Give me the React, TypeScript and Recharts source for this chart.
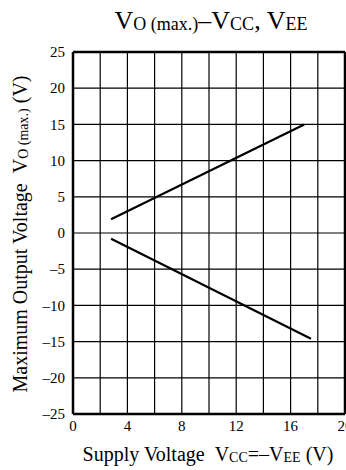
import { LineChart, Line, XAxis, YAxis, CartesianGrid, ReferenceLine } from "recharts";

const xTicks = [0, 2, 4, 6, 8, 10, 12, 14, 16, 18, 20];
const xLabelTicks = [0, 4, 8, 12, 16, 20];
const yTicks = [-25, -20, -15, -10, -5, 0, 5, 10, 15, 20, 25];

// V_O(max) positive side vs supply voltage
const upperX = [2.8, 17];
const upperY = [1.9, 15];
// V_O(max) negative side vs supply voltage
const lowerX = [2.8, 17.5];
const lowerY = [-0.8, -14.6];

const upperData = upperX.map((x, i) => ({ x, y: upperY[i] }));
const lowerData = lowerX.map((x, i) => ({ x, y: lowerY[i] }));

const FONT = "'Liberation Serif', 'Times New Roman', serif";

const XTick = (props: any) => {
  const { x, y, payload } = props;
  if (!xLabelTicks.includes(payload.value)) return null;
  return (
    <text x={x} y={y} dy="0.6em" textAnchor="middle" fontSize={15} fontFamily={FONT} fill="#000">
      {payload.value}
    </text>
  );
};

const YTick = (props: any) => {
  const { x, y, payload } = props;
  return (
    <text x={x} y={y} dy="0.35em" textAnchor="end" fontSize={15} fontFamily={FONT} fill="#000">
      {String(payload.value).replace("-", "\u2013")}
    </text>
  );
};

const App = () => {
  return (
    <div style={{ position: "absolute", left: 0, top: 0, width: 346, height: 470, background: "#fff" }}>
      <LineChart width={346} height={470} margin={{ top: 52, right: 1, bottom: 26, left: 0 }}>
        <CartesianGrid stroke="#000" strokeWidth={1.2} />
        <XAxis
          type="number"
          dataKey="x"
          domain={[0, 20]}
          ticks={xTicks}
          interval={0}
          tickLine={false}
          axisLine={{ stroke: "#000", strokeWidth: 2.5 }}
          height={30}
          tick={<XTick />}
          allowDataOverflow
        />
        <YAxis
          type="number"
          domain={[-25, 25]}
          ticks={yTicks}
          interval={0}
          tickLine={false}
          axisLine={{ stroke: "#000", strokeWidth: 2.5 }}
          width={73}
          tick={<YTick />}
          allowDataOverflow
        />
        <ReferenceLine y={25} stroke="#000" strokeWidth={2.5} />
        <ReferenceLine x={20} stroke="#000" strokeWidth={2.5} />
        <Line data={upperData} dataKey="y" stroke="#000" strokeWidth={2.2} dot={false} isAnimationActive={false} />
        <Line data={lowerData} dataKey="y" stroke="#000" strokeWidth={2.2} dot={false} isAnimationActive={false} />
      </LineChart>
      <svg width={346} height={470} style={{ position: "absolute", left: 0, top: 0, pointerEvents: "none" }}>
        <text x={211} y={29} textAnchor="middle" fontFamily={FONT} fontSize={26} fill="#000">
          V<tspan fontSize={18} dy={1}>O (max.)</tspan>
          <tspan dy={-1}>{"\u2013V"}</tspan>
          <tspan fontSize={18} dy={1}>CC</tspan>
          <tspan dy={-1}>, V</tspan>
          <tspan fontSize={18} dy={1}>EE</tspan>
        </text>
        <text x={208} y={461} textAnchor="middle" fontFamily={FONT} fontSize={20} fill="#000">
          Supply Voltage{"\u00a0\u00a0"}V<tspan fontSize={14} dy={1}>CC</tspan>
          <tspan dy={-1}>{"=\u2013V"}</tspan>
          <tspan fontSize={14} dy={1}>EE</tspan>
          <tspan dy={-1}> (V)</tspan>
        </text>
        <text
          x={27}
          y={234}
          transform="rotate(-90 27 234)"
          textAnchor="middle"
          fontFamily={FONT}
          fontSize={20}
          fill="#000"
        >
          Maximum Output Voltage{"\u00a0\u00a0"}V<tspan fontSize={14} dy={1}>O (max.)</tspan>
          <tspan dy={-1}> (V)</tspan>
        </text>
      </svg>
    </div>
  );
};

export default App;
